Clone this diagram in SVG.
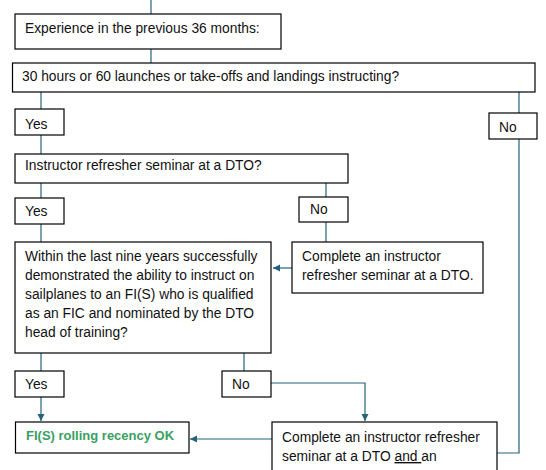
<svg xmlns="http://www.w3.org/2000/svg" width="546" height="470" viewBox="0 0 546 470">
<style>
.box{fill:#fff;stroke:#000;stroke-width:1.2}
.t{font-family:"Liberation Sans",Arial,sans-serif;font-size:13.8px;fill:#111}
.g{font-family:"Liberation Sans",Arial,sans-serif;font-size:13px;font-weight:bold;fill:#3a9f62}
.c{fill:none;stroke:#24637a;stroke-width:1.2}
</style>
<defs>
<marker id="ah" markerWidth="8" markerHeight="8" refX="7" refY="4" orient="auto" markerUnits="userSpaceOnUse">
<path d="M0,0.5 L7,4 L0,7.5 Z" fill="#24637a"/>
</marker>
</defs>
<rect width="546" height="470" fill="#fff"/>
<g id="connectors">
<path class="c" d="M151,0 V14"/>
<path class="c" d="M151,49 V63"/>
<path class="c" d="M41,92 V109"/>
<path class="c" d="M41,135 V154"/>
<path class="c" d="M519,92 V113"/>
<path class="c" d="M519,139 V453 H497"/>
<path class="c" d="M41,183 V198"/>
<path class="c" d="M41,224 V242"/>
<path class="c" d="M326,183 V197"/>
<path class="c" d="M326,222 V242"/>
<path class="c" d="M292,268 H273" marker-end="url(#ah)"/>
<path class="c" d="M41,353 V371"/>
<path class="c" d="M41,397 V421" marker-end="url(#ah)"/>
<path class="c" d="M244,353 V371"/>
<path class="c" d="M271,383 H365 V421" marker-end="url(#ah)"/>
<path class="c" d="M272,439 H190" marker-end="url(#ah)"/>
</g>
<g id="experience">
<rect class="box" x="15" y="14" width="266" height="35"/>
<text class="t" x="25" y="33">Experience in the previous 36 months:</text>
</g>
<g id="hours">
<rect class="box" x="12.5" y="63" width="522.5" height="29"/>
<text class="t" x="22" y="81">30 hours or 60 launches or take-offs and landings instructing?</text>
</g>
<g id="yes1">
<rect class="box" x="15" y="109" width="49" height="26"/>
<text class="t" x="25" y="129">Yes</text>
</g>
<g id="no1">
<rect class="box" x="489" y="113" width="48" height="26"/>
<text class="t" x="499" y="132">No</text>
</g>
<g id="seminar">
<rect class="box" x="15" y="154" width="333" height="29"/>
<text class="t" x="25" y="170">Instructor refresher seminar at a DTO?</text>
</g>
<g id="yes2">
<rect class="box" x="15" y="198" width="49" height="26"/>
<text class="t" x="25" y="216">Yes</text>
</g>
<g id="no2">
<rect class="box" x="299" y="197" width="49" height="25"/>
<text class="t" x="310" y="214">No</text>
</g>
<g id="nineyears">
<rect class="box" x="15" y="242" width="256" height="111"/>
<text class="t" x="25" y="261">Within the last nine years successfully</text>
<text class="t" x="25" y="280">demonstrated the ability to instruct on</text>
<text class="t" x="25" y="299">sailplanes to an FI(S) who is qualified</text>
<text class="t" x="25" y="318">as an FIC and nominated by the DTO</text>
<text class="t" x="25" y="337">head of training?</text>
</g>
<g id="complete1">
<rect class="box" x="292" y="242" width="191" height="51"/>
<text class="t" x="302" y="261">Complete an instructor</text>
<text class="t" x="302" y="280">refresher seminar at a DTO.</text>
</g>
<g id="yes3">
<rect class="box" x="15" y="371" width="49" height="26"/>
<text class="t" x="25" y="389">Yes</text>
</g>
<g id="no3">
<rect class="box" x="222" y="371" width="49" height="26"/>
<text class="t" x="232" y="389">No</text>
</g>
<g id="ok">
<rect class="box" x="15.5" y="422" width="173.5" height="31"/>
<text class="g" x="26" y="440">FI(S) rolling recency OK</text>
</g>
<g id="complete2">
<rect class="box" x="272" y="422" width="225" height="60"/>
<text class="t" x="282" y="442">Complete an instructor refresher</text>
<text class="t" x="282" y="461">seminar at a DTO <tspan text-decoration="underline">and </tspan>an</text>
</g>
</svg>
